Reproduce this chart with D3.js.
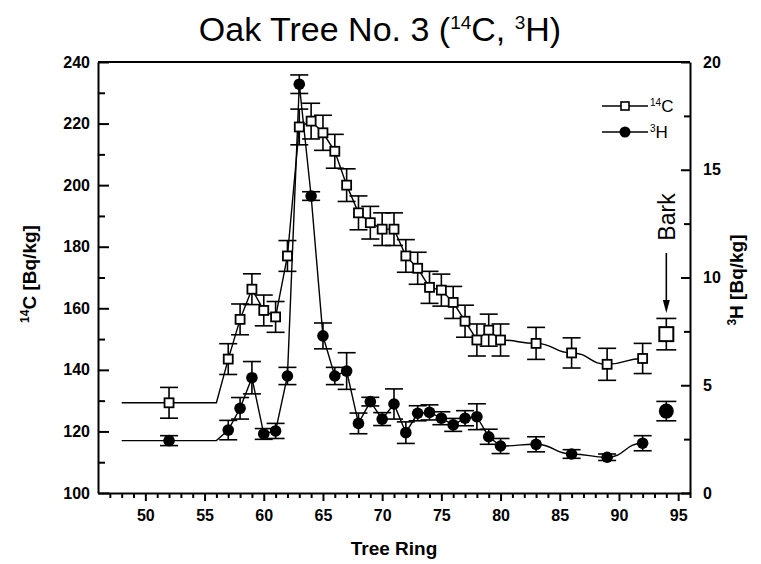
<!DOCTYPE html>
<html>
<head>
<meta charset="utf-8">
<script src="https://cdn.jsdelivr.net/npm/d3@7"></script>
<style>
  body { margin: 0; background: #fff; }
  svg { display: block; }
  text { font-family: "Liberation Sans", Arial, Helvetica, sans-serif; fill: #000; }
</style>
</head>
<body>
<svg id="chart" width="761" height="564"></svg>
<script>
// Tree rings sampled (both nuclides measured on the same rings)
const rings = [52, 57, 58, 59, 60, 61, 62, 63, 64, 65, 66, 67, 68, 69, 70, 71, 72, 73, 74, 75, 76, 77, 78, 79, 80, 83, 86, 89, 92];

// 14C activity [Bq/kg] and its uncertainty
const c14 = [129.3, 143.5, 156.4, 166.2, 159.3, 157.2, 177.0, 218.9, 220.8, 217.0, 211.0, 200.0, 191.0, 187.8, 185.7, 185.7, 177.0, 173.0, 166.8, 165.9, 161.9, 155.8, 149.7, 152.9, 149.7, 148.6, 145.5, 141.8, 143.7];
const c14Err = [5.0, 5.0, 5.0, 5.0, 5.0, 5.0, 5.0, 5.8, 5.8, 5.7, 5.5, 5.3, 5.5, 5.3, 5.3, 5.3, 5.3, 5.2, 5.2, 5.2, 5.2, 5.2, 5.2, 5.2, 5.2, 5.2, 4.9, 5.2, 4.9];

// 3H activity [Bq/kg] and its uncertainty
const h3 = [2.43, 2.92, 3.93, 5.35, 2.74, 2.88, 5.43, 18.97, 13.78, 7.29, 5.43, 5.66, 3.23, 4.24, 3.43, 4.13, 2.80, 3.70, 3.74, 3.47, 3.16, 3.47, 3.54, 2.61, 2.18, 2.26, 1.81, 1.66, 2.31];
const h3Err = [0.23, 0.45, 0.50, 0.75, 0.25, 0.35, 0.40, 0.43, 0.20, 0.60, 0.40, 0.85, 0.48, 0.20, 0.30, 0.70, 0.50, 0.35, 0.35, 0.30, 0.30, 0.35, 0.60, 0.35, 0.35, 0.35, 0.20, 0.15, 0.35];

// Outermost ring (bark), measured separately
const barkRing = 94;
const barkC14 = 151.6, barkC14Err = 5.1;
const barkH3 = 3.80, barkH3Err = 0.45;

// Trend lines run flat from this ring up to the start of the rise
const trendStart = 48;
const riseStart = 56;
const smoothFrom = 80;   // sparse tail drawn as a smooth curve

// Axis ticks
const ringTicks = [50, 55, 60, 65, 70, 75, 80, 85, 90, 95];
const c14Ticks = [100, 120, 140, 160, 180, 200, 220, 240];
const h3Ticks = [0, 5, 10, 15, 20];

const svg = d3.select("#chart");
const L = 98, R = 690, T = 62, B = 493;

const x = d3.scaleLinear().domain([46, 96]).range([L, R]);
const yC = d3.scaleLinear().domain([100, 240]).range([B, T]);
const yH = d3.scaleLinear().domain([0, 20]).range([B, T]);

// ---- title ----
const title = svg.append("text")
  .attr("x", 380).attr("y", 41)
  .attr("text-anchor", "middle")
  .style("font-size", "34px");
title.append("tspan").text("Oak Tree No. 3 (");
title.append("tspan").attr("dy", -12).style("font-size", "19px").text("14");
title.append("tspan").attr("dy", 12).text("C, ");
title.append("tspan").attr("dy", -12).style("font-size", "19px").text("3");
title.append("tspan").attr("dy", 12).text("H)");

// ---- axes ----
function styleAxis(g) {
  g.selectAll("path, line").attr("stroke", "#000").attr("stroke-width", 2);
  g.selectAll("text").style("font-size", "16px").style("font-weight", "bold")
    .attr("fill", "#000").style("font-family", "'Liberation Sans', Arial, sans-serif");
}

// bottom: minor every ring, major every 5, ticks pointing down
svg.append("g").attr("transform", `translate(0,${B})`)
  .call(d3.axisBottom(x).tickValues(d3.range(47, 97, 1).filter(v => v % 5 !== 0))
    .tickSize(5).tickFormat(""))
  .call(g => g.select(".domain").remove())
  .call(styleAxis);
svg.append("g").attr("transform", `translate(0,${B})`)
  .call(d3.axisBottom(x).tickValues(ringTicks).tickSizeInner(8).tickSizeOuter(0).tickPadding(9).tickFormat(d3.format("d")))
  .call(styleAxis);

// left: 14C, ticks pointing into the plot
svg.append("g").attr("transform", `translate(${L},0)`)
  .call(d3.axisLeft(yC).tickValues(d3.range(110, 240, 20)).tickSize(-7).tickFormat(""))
  .call(g => g.select(".domain").remove())
  .call(styleAxis);
svg.append("g").attr("transform", `translate(${L},0)`)
  .call(d3.axisLeft(yC).tickValues(c14Ticks).tickSizeInner(-11).tickSizeOuter(0).tickPadding(8).tickFormat(d3.format("d")))
  .call(styleAxis);

// right: 3H, ticks pointing into the plot
svg.append("g").attr("transform", `translate(${R},0)`)
  .call(d3.axisRight(yH).tickValues(d3.range(2.5, 20, 5)).tickSize(-6).tickFormat(""))
  .call(g => g.select(".domain").remove())
  .call(styleAxis);
svg.append("g").attr("transform", `translate(${R},0)`)
  .call(d3.axisRight(yH).tickValues(h3Ticks).tickSizeInner(-9).tickSizeOuter(0).tickPadding(13).tickFormat(d3.format("d")))
  .call(styleAxis);

// top frame
svg.append("line").attr("x1", L).attr("x2", R).attr("y1", T).attr("y2", T)
  .attr("stroke", "#000").attr("stroke-width", 2);

// ---- axis titles ----
svg.append("text").attr("x", (L + R) / 2).attr("y", 555)
  .attr("text-anchor", "middle").style("font-size", "19px").style("font-weight", "bold")
  .text("Tree Ring");

const yl = svg.append("text").attr("transform", "translate(36,274) rotate(-90)")
  .attr("text-anchor", "middle").style("font-size", "19px").style("font-weight", "bold");
yl.append("tspan").attr("dy", -7).style("font-size", "12px").text("14");
yl.append("tspan").attr("dy", 7).text("C [Bq/kg]");

const yr = svg.append("text").attr("transform", "translate(743,280) rotate(-90)")
  .attr("text-anchor", "middle").style("font-size", "19px").style("font-weight", "bold");
yr.append("tspan").attr("dy", -7).style("font-size", "12px").text("3");
yr.append("tspan").attr("dy", 7).text("H [Bq/kg]");

// ---- trend lines ----
function trendPoints(vals) {
  const pts = [{ r: trendStart, v: vals[0] }, { r: riseStart, v: vals[0] }];
  rings.forEach((r, i) => { if (r > riseStart) pts.push({ r, v: vals[i] }); });
  return pts;
}
function drawTrend(vals, yScale) {
  const pts = trendPoints(vals);
  const straight = d3.line().x(d => x(d.r)).y(d => yScale(d.v));
  const smooth = d3.line().x(d => x(d.r)).y(d => yScale(d.v)).curve(d3.curveBumpX);
  svg.append("path").attr("d", straight(pts.filter(d => d.r <= smoothFrom)))
    .attr("fill", "none").attr("stroke", "#000").attr("stroke-width", 1.4);
  svg.append("path").attr("d", smooth(pts.filter(d => d.r >= smoothFrom)))
    .attr("fill", "none").attr("stroke", "#000").attr("stroke-width", 1.4);
}
drawTrend(c14, yC);
drawTrend(h3, yH);

// ---- error bars ----
function errorBar(g, r, v, e, yScale, cap) {
  const cx = x(r);
  g.append("line").attr("x1", cx).attr("x2", cx).attr("y1", yScale(v - e)).attr("y2", yScale(v + e));
  g.append("line").attr("x1", cx - cap).attr("x2", cx + cap).attr("y1", yScale(v + e)).attr("y2", yScale(v + e));
  g.append("line").attr("x1", cx - cap).attr("x2", cx + cap).attr("y1", yScale(v - e)).attr("y2", yScale(v - e));
}
const eg = svg.append("g").attr("stroke", "#000").attr("stroke-width", 1.6);
rings.forEach((r, i) => {
  errorBar(eg, r, c14[i], c14Err[i], yC, 9);
  errorBar(eg, r, h3[i], h3Err[i], yH, 9);
});
errorBar(eg, barkRing, barkC14, barkC14Err, yC, 10);
errorBar(eg, barkRing, barkH3, barkH3Err, yH, 10);

// ---- markers ----
const sq = 9;
svg.append("g").selectAll("rect").data(rings).join("rect")
  .attr("x", (r) => x(r) - sq / 2)
  .attr("y", (r, i) => yC(c14[i]) - sq / 2)
  .attr("width", sq).attr("height", sq)
  .attr("fill", "#fff").attr("stroke", "#000").attr("stroke-width", 1.8);
svg.append("g").selectAll("circle").data(rings).join("circle")
  .attr("cx", (r) => x(r))
  .attr("cy", (r, i) => yH(h3[i]))
  .attr("r", 5.8).attr("fill", "#000");

// bark markers, drawn larger
const bsq = 14;
svg.append("rect")
  .attr("x", x(barkRing) - bsq / 2).attr("y", yC(barkC14) - bsq / 2)
  .attr("width", bsq).attr("height", bsq)
  .attr("fill", "#fff").attr("stroke", "#000").attr("stroke-width", 2);
svg.append("circle").attr("cx", x(barkRing)).attr("cy", yH(barkH3)).attr("r", 7.5).attr("fill", "#000");

// ---- bark annotation ----
const bx = x(barkRing);
svg.append("text").attr("transform", `translate(${bx + 9},217) rotate(-90)`)
  .attr("text-anchor", "middle").style("font-size", "23px").text("Bark");
svg.append("line").attr("x1", bx).attr("x2", bx).attr("y1", 253).attr("y2", 302)
  .attr("stroke", "#000").attr("stroke-width", 1.6);
svg.append("path")
  .attr("d", `M${bx - 3.5},300 L${bx + 3.5},300 L${bx},313 Z`)
  .attr("fill", "#000");

// ---- legend ----
const lg = svg.append("g");
const lx1 = 602, lx2 = 648, lmid = 625;
lg.append("line").attr("x1", lx1).attr("x2", lx2).attr("y1", 106).attr("y2", 106)
  .attr("stroke", "#000").attr("stroke-width", 1.4);
lg.append("rect").attr("x", lmid - 4).attr("y", 102).attr("width", 8).attr("height", 8)
  .attr("fill", "#fff").attr("stroke", "#000").attr("stroke-width", 1.6);
const t1 = lg.append("text").attr("x", 650).attr("y", 112).style("font-size", "17px");
t1.append("tspan").attr("dy", -6).style("font-size", "10px").text("14");
t1.append("tspan").attr("dy", 6).text("C");

lg.append("line").attr("x1", lx1).attr("x2", lx2).attr("y1", 132).attr("y2", 132)
  .attr("stroke", "#000").attr("stroke-width", 1.4);
lg.append("circle").attr("cx", lmid).attr("cy", 132).attr("r", 5.5).attr("fill", "#000");
const t2 = lg.append("text").attr("x", 650).attr("y", 138).style("font-size", "17px");
t2.append("tspan").attr("dy", -6).style("font-size", "10px").text("3");
t2.append("tspan").attr("dy", 6).text("H");
</script>
</body>
</html>
